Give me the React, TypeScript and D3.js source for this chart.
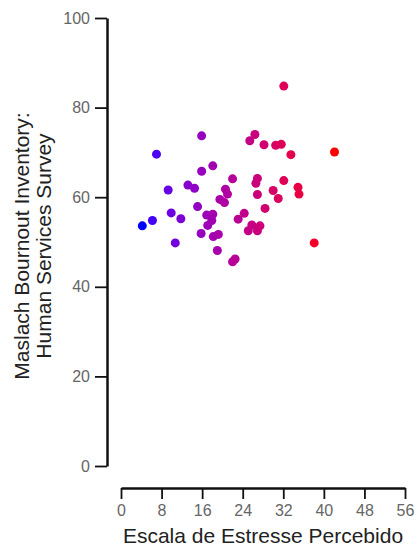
import { useEffect, useRef } from "react";
import * as d3 from "d3";

// Escala de Estresse Percebido (x) vs Maslach Burnout Inventory (y)
const stressScores = [
  32.1, 42.1, 38.1, 4.2, 6.2, 7.0, 9.3, 9.9, 11.8, 10.7, 15.9, 15.9, 18.1,
  13.2, 14.5, 15.1, 16.9, 18.1, 17.9, 17.1, 15.8, 18.2, 19.2, 19.0, 22.0,
  22.5, 20.6, 21.0, 19.5, 20.4, 22.0, 23.1, 24.3, 25.1, 25.8, 26.9, 27.4,
  25.4, 26.4, 28.2, 30.5, 31.6, 33.5, 26.6, 26.9, 26.9, 28.4, 30.0, 31.0,
  32.1, 34.9, 35.1,
];
const burnoutScores = [
  84.8, 70.1, 49.8, 53.6, 54.8, 69.6, 61.6, 56.5, 55.2, 49.8, 73.7, 65.8,
  67.0, 62.7, 62.0, 57.9, 56.0, 56.2, 54.8, 53.7, 51.9, 51.2, 51.7, 48.1,
  45.6, 46.2, 61.8, 60.7, 59.5, 58.8, 64.1, 55.1, 56.4, 52.5, 53.8, 52.5,
  53.6, 72.6, 74.0, 71.7, 71.6, 71.8, 69.5, 63.1, 64.2, 60.6, 57.5, 61.5,
  59.7, 63.7, 62.2, 60.7,
];
const xTicks = [0, 8, 16, 24, 32, 40, 48, 56];
const yTicks = [0, 20, 40, 60, 80, 100];
const xTitle = "Escala de Estresse Percebido";
const yTitleLines = ["Maslach Bournout Inventory:", "Human Services Survey"];

const App = () => {
  const svgRef = useRef();

  useEffect(() => {
    const svg = d3.select(svgRef.current);
    const width = 417;
    const height = 547;
    const font = "'Liberation Sans', Arial, sans-serif";

    svg.selectAll("*").remove();
    svg.attr("width", width).attr("height", height);

    const x = d3.scaleLinear().domain([0, 56]).range([121, 405]);
    const y = d3.scaleLinear().domain([0, 100]).range([466, 18]);

    // blue -> red along the x value, red channel rises quickly
    const t = d3.scaleLinear().domain(d3.extent(stressScores)).range([0, 1]).clamp(true);
    const color = (d) => {
      const v = t(d);
      return d3.rgb(255 * Math.pow(v, 0.45), 0, 255 * Math.pow(1 - v, 0.8)).formatHex();
    };

    // y axis
    const yAxis = svg.append("g").attr("transform", "translate(107,0)")
      .call(d3.axisLeft(y).tickValues(yTicks).tickSize(12).tickPadding(5).tickSizeOuter(0));
    yAxis.select(".domain").attr("stroke", "#111").attr("stroke-width", 2.5);
    yAxis.selectAll(".tick line").attr("stroke", "#111").attr("stroke-width", 1.8);
    yAxis.selectAll(".tick text")
      .attr("fill", "#666")
      .style("font-family", font)
      .style("font-size", "16px");

    // x axis
    const xAxis = svg.append("g").attr("transform", "translate(0,488)")
      .call(d3.axisBottom(x).tickValues(xTicks).tickSize(11).tickPadding(6).tickSizeOuter(0));
    xAxis.select(".domain").attr("stroke", "#111").attr("stroke-width", 2.5);
    xAxis.selectAll(".tick line").attr("stroke", "#111").attr("stroke-width", 1.8);
    xAxis.selectAll(".tick text")
      .attr("fill", "#666")
      .style("font-family", font)
      .style("font-size", "16px");

    // titles
    svg.append("text")
      .attr("x", (x(0) + x(56)) / 2)
      .attr("y", 543)
      .attr("text-anchor", "middle")
      .attr("fill", "#222")
      .style("font-family", font)
      .style("font-size", "21px")
      .text(xTitle);

    yTitleLines.forEach((line, i) => {
      svg.append("text")
        .attr("transform", `translate(${29 + i * 22},246) rotate(-90)`)
        .attr("text-anchor", "middle")
        .attr("fill", "#222")
        .style("font-family", font)
        .style("font-size", "21px")
        .text(line);
    });

    // points
    svg.append("g")
      .selectAll("circle")
      .data(stressScores)
      .join("circle")
      .attr("cx", (d) => x(d))
      .attr("cy", (d, i) => y(burnoutScores[i]))
      .attr("r", 4.5)
      .attr("fill", (d) => color(d));
  }, []);

  return (
    <svg ref={svgRef} style={{ position: "absolute", left: 0, top: 0 }} />
  );
};

export default App;
